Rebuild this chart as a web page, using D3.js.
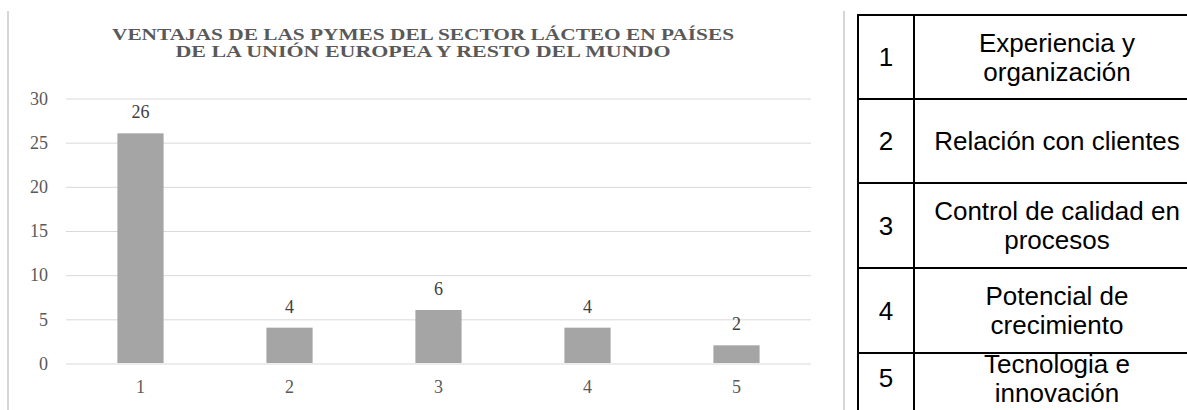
<!DOCTYPE html>
<html>
<head>
<meta charset="utf-8">
<script src="https://cdn.jsdelivr.net/npm/d3@7"></script>
<style>
  html, body { margin: 0; padding: 0; background: #fff; }
  svg { display: block; }
</style>
</head>
<body>
<svg id="chart" width="1187" height="410"></svg>
<script>
// ---- data ----
const categories = ["1", "2", "3", "4", "5"];
const values = [26, 4, 6, 4, 2];
const yTicks = [0, 5, 10, 15, 20, 25, 30];
const titleLines = [
  "VENTAJAS DE LAS PYMES DEL SECTOR LÁCTEO EN PAÍSES",
  "DE LA UNIÓN EUROPEA Y RESTO DEL MUNDO"
];
const tableNumbers = ["1", "2", "3", "4", "5"];
const tableLabels = [
  ["Experiencia y", "organización"],
  ["Relación con clientes"],
  ["Control de calidad en", "procesos"],
  ["Potencial de", "crecimiento"],
  ["Tecnologia e", "innovación"]
];

// ---- layout ----
const svg = d3.select("#chart");
const W = 1187, H = 410;
const plot = { left: 66, right: 811, top: 98, bottom: 363 };
const serif = "'Liberation Serif', 'Times New Roman', serif";
const sans = "'Liberation Sans', Arial, sans-serif";
const textGrey = "#595959";

// side frames
[8, 844].forEach(x => {
  svg.append("line")
    .attr("x1", x).attr("x2", x).attr("y1", 11).attr("y2", H)
    .attr("stroke", "#d6d6d6").attr("stroke-width", 2);
});

const x = d3.scaleBand().domain(categories).range([plot.left, plot.right]).paddingInner(0).paddingOuter(0);
const y = d3.scaleLinear().domain([0, 30]).range([plot.bottom, plot.top]);
const barW = x.bandwidth() * 0.31;

// gridlines + y labels via axis
const gy = svg.append("g")
  .attr("transform", `translate(${plot.left},0.5)`)
  .call(d3.axisLeft(y).tickValues(yTicks).tickSize(-(plot.right - plot.left)).tickPadding(18));
gy.select(".domain").remove();
gy.selectAll(".tick line").attr("stroke", "#d9d9d9").attr("stroke-width", 1);
gy.selectAll(".tick text")
  .attr("fill", textGrey).attr("font-family", serif).attr("font-size", 18)
  .attr("x", 48 - plot.left).attr("dy", "0.32em");

// bars
svg.append("g").selectAll("rect")
  .data(values)
  .join("rect")
  .attr("x", (d, i) => x(categories[i]) + x.bandwidth() / 2 - barW / 2)
  .attr("y", d => y(d))
  .attr("width", barW)
  .attr("height", d => y(0) - y(d))
  .attr("fill", "#a5a5a5");

// value labels
svg.append("g").selectAll("text")
  .data(values)
  .join("text")
  .attr("x", (d, i) => x(categories[i]) + x.bandwidth() / 2)
  .attr("y", d => y(d) - 15)
  .attr("text-anchor", "middle")
  .attr("font-family", serif).attr("font-size", 18)
  .attr("fill", "#404040")
  .text(d => d);

// x axis labels
const gx = svg.append("g")
  .attr("transform", `translate(0,${plot.bottom})`)
  .call(d3.axisBottom(x).tickSize(0).tickPadding(0));
gx.select(".domain").remove();
gx.selectAll(".tick text")
  .attr("fill", textGrey).attr("font-family", serif).attr("font-size", 18)
  .attr("y", 30).attr("dy", 0);

// title
const titleLens = [622, 495];
svg.append("g").selectAll("text")
  .data(titleLines)
  .join("text")
  .attr("x", 423)
  .attr("y", (d, i) => 40 + i * 17)
  .attr("text-anchor", "middle")
  .attr("font-family", serif).attr("font-weight", "bold").attr("font-size", 16)
  .attr("fill", textGrey)
  .attr("textLength", (d, i) => titleLens[i])
  .attr("lengthAdjust", "spacingAndGlyphs")
  .text(d => d);

// ---- table ----
const tbl = { left: 858, mid: 914, right: 1200, top: 15 };
const rowH = [84, 84, 85, 85, 50];
const rowTops = rowH.reduce((acc, h, i) => { acc.push(i === 0 ? tbl.top : acc[i - 1] + rowH[i - 1]); return acc; }, []);
const tg = svg.append("g");
rowTops.forEach(t => {
  tg.append("line").attr("x1", tbl.left - 1).attr("x2", tbl.right).attr("y1", t).attr("y2", t)
    .attr("stroke", "#000").attr("stroke-width", 2);
});
[tbl.left, tbl.mid, tbl.right].forEach(xx => {
  tg.append("line").attr("x1", xx).attr("x2", xx).attr("y1", tbl.top - 1).attr("y2", H)
    .attr("stroke", "#000").attr("stroke-width", 2);
});
const lineGap = 29;
const fs = 26;
tableNumbers.forEach((n, i) => {
  const cy = rowTops[i] + rowH[i] / 2;
  tg.append("text")
    .attr("x", (tbl.left + tbl.mid) / 2).attr("y", cy + 9)
    .attr("text-anchor", "middle").attr("font-family", sans).attr("font-size", fs)
    .attr("fill", "#000").text(n);
  const lines = tableLabels[i];
  lines.forEach((l, j) => {
    tg.append("text")
      .attr("x", (tbl.mid + tbl.right) / 2)
      .attr("y", cy + 9 + (j - (lines.length - 1) / 2) * lineGap)
      .attr("text-anchor", "middle").attr("font-family", sans).attr("font-size", fs)
      .attr("fill", "#000").text(l);
  });
});
</script>
</body>
</html>
